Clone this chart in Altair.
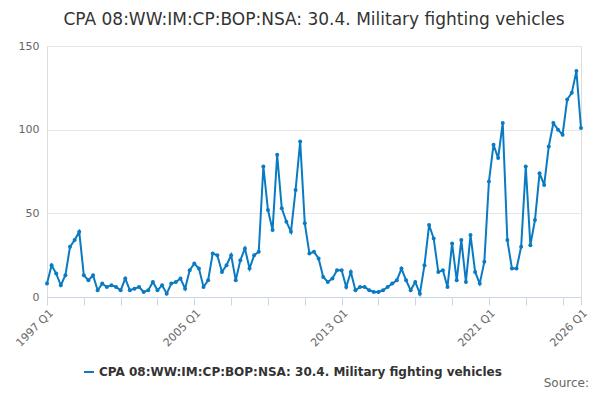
import altair as alt
import pandas as pd

series_name = "CPA 08:WW:IM:CP:BOP:NSA: 30.4. Military fighting vehicles"
start_year = 1997
values = [
    8, 19, 14, 7, 13, 30, 34, 39, 13, 10, 13, 4, 8, 6, 7, 6,
    4, 11, 4, 5, 6, 3, 4, 9, 4, 7, 2, 8, 9, 11, 5, 16,
    20, 17, 6, 10, 26, 25, 15, 19, 25, 10, 22, 29, 17, 25, 27, 78,
    52, 40, 85, 53, 45, 39, 64, 93, 44, 26, 27, 23, 12, 9, 11, 16,
    16, 6, 15, 4, 6, 6, 4, 3, 3, 4, 6, 8, 10, 17, 10, 4,
    9, 2, 19, 43, 35, 15, 16, 6, 32, 10, 34, 9, 37, 15, 8, 21,
    69, 91, 83, 104, 34, 17, 17, 30, 78, 31, 46, 74, 67, 90, 104, 100,
    97, 118, 122, 135, 101,
]
label_idx = [0, 32, 64, 96, 116]

df = pd.DataFrame({
    "i": range(len(values)),
    "value": values,
    "series": series_name,
})
df["period"] = [f"{start_year + i // 4} Q{i % 4 + 1}" for i in df["i"]]

tick_vals = list(range(0, 116, 8)) + [116]
label_expr = " : ".join(
    f"datum.value == {i} ? '{start_year + i // 4} Q{i % 4 + 1}'" for i in label_idx
) + " : ''"

color = "#0a7bc2"
base = alt.Chart(df).encode(
    x=alt.X("i:Q", title=None, scale=alt.Scale(domain=[0, 116], nice=False),
            axis=alt.Axis(values=tick_vals, labelExpr=label_expr, grid=False,
                          labelAngle=315, labelColor="#666", labelFontSize=11,
                          domainColor="#ccd6eb", tickColor="#ccd6eb", tickSize=8,
                          labelOverlap=False)),
    y=alt.Y("value:Q", title=None, scale=alt.Scale(domain=[0, 150]),
            axis=alt.Axis(values=[0, 50, 100, 150], gridColor="#e6e6e6", domain=False,
                          ticks=False, labelColor="#666", labelFontSize=11, labelPadding=8)),
    color=alt.Color("series:N", scale=alt.Scale(range=[color]),
                    legend=alt.Legend(title=None, orient="none", legendX=36, legendY=320,
                                      symbolType="stroke",
                                      symbolStrokeWidth=2, labelFontSize=12,
                                      labelFontWeight="bold", labelColor="#333",
                                      labelLimit=500)),
    tooltip=["period", "value"],
)
line = base.mark_line(strokeWidth=2)
pts = base.mark_point(filled=True, size=16, opacity=1)

source = alt.Chart(pd.DataFrame({"t": ["Source:"]})).mark_text(
    align="right", fontSize=12, color="#666"
).encode(text="t:N", x=alt.value(542), y=alt.value(337))

chart = alt.layer(line, pts, source).properties(
    width=534, height=251,
    autosize=alt.AutoSizeParams(type="none"),
    title=alt.Title(series_name, fontSize=17, fontWeight="normal", color="#333", offset=11),
    padding={"left": 39, "top": 38, "right": 11, "bottom": 95},
).configure_view(stroke=None).configure(font="DejaVu Sans")

chart.save("out.html", embed_options={"renderer": "svg", "actions": False})
